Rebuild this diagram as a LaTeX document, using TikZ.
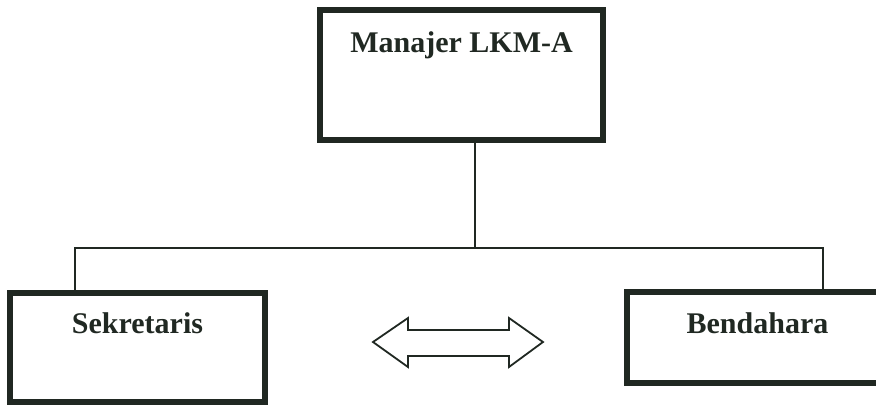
\documentclass[tikz,border=0pt]{standalone}
\usepackage{fontspec}
\setmainfont{Liberation Serif}
\usetikzlibrary{calc}

\definecolor{tinta}{RGB}{32,40,34}

\begin{document}
\begin{tikzpicture}[x=1pt,y=-1pt,
	jabatan/.style={draw=tinta,line width=5.5pt,inner sep=0pt,outer sep=0pt,
		font=\fontsize{30}{35}\selectfont\bfseries,text=tinta},
	garis/.style={draw=tinta,line width=1.6pt}]
	\useasboundingbox (0,0) rectangle (876,405);
	
	%boxes
	\node[jabatan,minimum width=283pt,text height=42pt,text depth=88pt] (manajer) at (461.5,10) [anchor=north] {Manajer LKM-A};
	\node[jabatan,minimum width=255pt,text height=40pt,text depth=69pt] (sekretaris) at (137.5,293) [anchor=north] {Sekretaris};
	\node[jabatan,minimum width=261pt,text height=41pt,text depth=50pt] (bendahara) at (757.5,292) [anchor=north] {Bendahara};
	
	%lines
	\coordinate (pusat) at (475,248);
	\coordinate (kiri) at (75,248);
	\coordinate (kanan) at (823,248);
	\draw[garis] (manajer.south -| pusat)--(pusat);
	\draw[garis] (kiri |- sekretaris.north)--(kiri)--(kanan)--(kanan |- bendahara.north);
	
	%double arrow
	\draw[garis,line width=1.8pt,line join=miter] (373,342)--(408,318)--(408,330)--(509,330)--(509,318)--(543,342)
		--(509,367)--(509,356)--(408,356)--(408,367)--cycle;
\end{tikzpicture}
\end{document}
